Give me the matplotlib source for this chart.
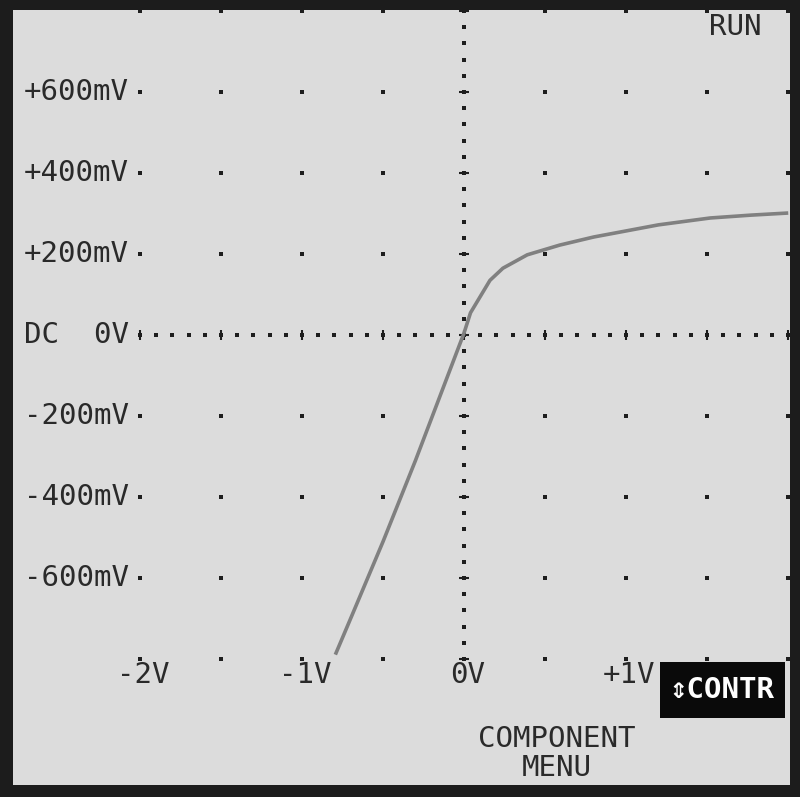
import numpy as np
import matplotlib.pyplot as plt

# trace (X in V, Y in V)
trace_x = [-0.79, -0.70, -0.60, -0.50, -0.40, -0.30, -0.20, -0.10, 0.0,
           0.04, 0.10, 0.16, 0.24, 0.39, 0.59, 0.80, 1.00, 1.20, 1.52, 1.77, 1.99]
trace_y = [-0.785, -0.70, -0.605, -0.51, -0.41, -0.31, -0.205, -0.10, 0.005,
           0.055, 0.095, 0.135, 0.165, 0.198, 0.222, 0.242, 0.257, 0.272, 0.289, 0.296, 0.301]

x_ticks = [-2, -1, 0, 1]
x_labels = ['-2V', '-1V', '0V', '+1V']
y_ticks = [0.6, 0.4, 0.2, 0.0, -0.2, -0.4, -0.6]
y_labels = ['+600mV', '+400mV', '+200mV', 'DC  0V', '-200mV', '-400mV', '-600mV']

bg = '#dcdcdc'
ink = '#2a2a2a'
mono = ['DejaVu Sans Mono', 'DejaVu Sans']

fig = plt.figure(figsize=(8, 7.97), dpi=100, facecolor='#1c1c1c')
ax = fig.add_axes([13/800, 12/797, 777/800, 775/797])
ax.set_facecolor(bg)
ax.set_xlim(-2.784, 2.012)
ax.set_ylim(-1.111, 0.8025)
ax.set_xticks([]); ax.set_yticks([])
for s in ax.spines.values():
    s.set_visible(False)

# grid dots at division crossings
gx = np.arange(-2.0, 2.01, 0.5)
gy = np.arange(-0.8, 0.81, 0.2)
GX, GY = np.meshgrid(gx, gy)
ax.scatter(GX.ravel(), GY.ravel(), s=5, marker='s', color='#1e1e1e', lw=0)

# dotted centre lines with sub-division dots
mx = np.arange(-2.0, 2.01, 0.1)
ax.scatter(mx, np.zeros_like(mx), s=5, marker='s', color='#1e1e1e', lw=0)
my = np.arange(-0.8, 0.81, 0.04)
ax.scatter(np.zeros_like(my), my, s=5, marker='s', color='#1e1e1e', lw=0)
ax.scatter(gx, np.zeros_like(gx), s=50, marker='|', color='#1e1e1e', lw=1.5)
ax.scatter(np.zeros_like(gy), gy, s=50, marker='_', color='#1e1e1e', lw=1.5)

# the trace
ax.plot(trace_x, trace_y, color='#808080', lw=2.6)

for v, lab in zip(y_ticks, y_labels):
    ax.text(-2.07, v, lab, ha='right', va='center', fontsize=21, family=mono, color=ink)
for v, lab in zip(x_ticks, x_labels):
    ax.text(v + 0.02, -0.84, lab, ha='center', va='center', fontsize=21, family=mono, color=ink)

ax.text(1.673, 0.760, 'RUN', ha='center', va='center', fontsize=21, family=mono, color=ink)
ax.text(0.574, -0.998, 'COMPONENT', ha='center', va='center', fontsize=21, family=mono, color=ink)
ax.text(0.574, -1.069, 'MENU', ha='center', va='center', fontsize=21, family=mono, color=ink)

ax.add_patch(plt.Rectangle((1.210, -0.946), 0.771, 0.139, color='#0a0a0a', lw=0, zorder=3))
ax.text(1.59, -0.876, '⇕CONTR', ha='center', va='center', fontsize=21, family=mono,
        color='white', fontweight='bold', zorder=4)

fig.savefig('out.png', dpi=100, facecolor=fig.get_facecolor())
